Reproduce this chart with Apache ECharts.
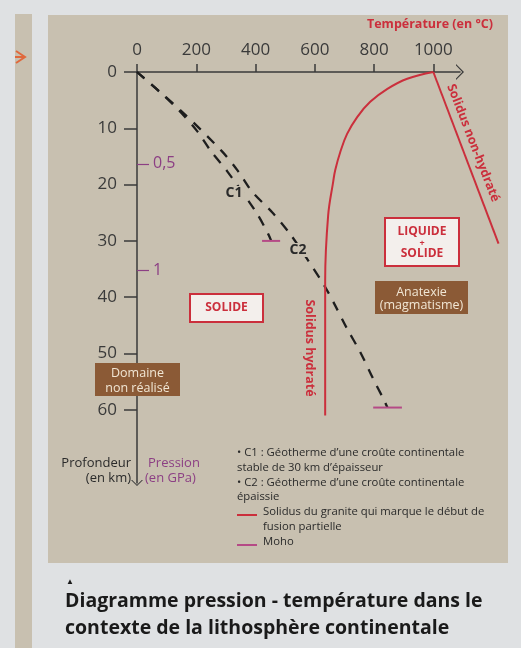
<!DOCTYPE html>
<html>
<head>
<meta charset="UTF-8">
<title>Diagramme pression - température</title>
<script src="https://cdn.jsdelivr.net/npm/echarts@6/dist/echarts.min.js"></script>
<style>
  * { margin: 0; padding: 0; }
  #main { width: 521px; height: 648px; }
</style>
</head>
<body>
<div id="main"></div>
<script>
// ticks
var tempTicks = [0, 200, 400, 600, 800, 1000];
var depthTicks = [0, 10, 20, 30, 40, 50, 60];
var pressureLabels = ['0,5', '1'];
var pressureDepths = [16.3, 35.3];

// geotherm C1 (croûte stable 30 km)
var c1Temp  = [0, 78, 145, 203, 250, 304, 402, 443, 453];
var c1Depth = [0, 3.6, 7, 10.5, 14.1, 17.6, 24.9, 28.8, 30];

// geotherm C2 (croûte épaissie)
var c2Temp  = [0, 155, 287, 341, 389, 456, 517, 574, 635, 669, 709, 753, 797, 831, 845];
var c2Depth = [0, 7.2, 14.1, 17.6, 21.3, 24.9, 28.8, 33.2, 38.2, 41.5, 45.6, 49.7, 54.5, 58, 59.6];

// solidus hydraté
var solHydTemp  = [1000, 912, 845, 787, 743, 709, 686, 669, 662, 645, 635, 635];
var solHydDepth = [0, 1.2, 3.0, 5.3, 8.0, 11.0, 14.2, 17.4, 19.5, 25.5, 37, 61];

// solidus non-hydraté
var solDryTemp  = [1000, 1220];
var solDryDepth = [0, 30.5];

// Moho (C1, C2)
var mohoDepth = [30, 59.6];
var mohoTempFrom = [422, 797];
var mohoTempTo = [483, 894];

var RED = '#cb2f3c';
var MOHO = '#b54a86';
var PURPLE = '#8c3f84';
var INK = '#2a2a2a';
var AXIS = '#3a3a3a';
var BEIGE = '#c8c0b0';
var GREY = '#dfe1e3';
var BROWN = '#8b5a36';
var FONT = '"Open Sans", sans-serif';

// same scale on both grids: 0.2963 px per °C, 5.63 px per km
var X_MAX = 1090, X_MAX_WIDE = 1250, Y_MAX = 73;

function pairs(xs, ys) {
  return xs.map(function (x, i) { return [x, ys[i]]; });
}

var chevron = 'path://M0,10 L10,0 L20,10 L18,10 L10,2.2 L2,10 Z';

var series = [
  {
    type: 'line', name: 'C1', data: pairs(c1Temp, c1Depth), symbol: 'none', smooth: 0.3,
    lineStyle: { color: '#1e1e1e', width: 2.3, type: [10, 9] }, z: 3
  },
  {
    type: 'line', name: 'C2', data: pairs(c2Temp, c2Depth), symbol: 'none', smooth: 0.3,
    lineStyle: { color: '#1e1e1e', width: 2.3, type: [10, 9] }, z: 3
  },
  {
    type: 'line', name: 'Solidus hydraté', data: pairs(solHydTemp, solHydDepth), symbol: 'none', smooth: 0.4,
    lineStyle: { color: RED, width: 2 }, z: 4
  },
  {
    type: 'line', name: 'Solidus non-hydraté', data: pairs(solDryTemp, solDryDepth), symbol: 'none',
    xAxisIndex: 1, yAxisIndex: 2, lineStyle: { color: RED, width: 2 }, z: 4
  }
];
mohoDepth.forEach(function (d, i) {
  series.push({
    type: 'line', name: 'Moho', data: [[mohoTempFrom[i], d], [mohoTempTo[i], d]], symbol: 'none',
    lineStyle: { color: MOHO, width: 2 }, z: 5
  });
});

function label(x, y, text, opt) {
  opt = opt || {};
  return {
    type: 'text', x: x, y: y, z: opt.z || 50, rotation: opt.rotation || 0,
    style: {
      text: text, x: 0, y: 0,
      fill: opt.color || INK,
      font: (opt.weight || 'normal') + ' ' + (opt.size || 12) + 'px ' + FONT,
      align: opt.align || 'left', verticalAlign: 'middle',
      backgroundColor: opt.bg, padding: opt.bg ? [0, 2] : 0
    }
  };
}
function rect(x, y, w, h, fill, stroke, z) {
  return {
    type: 'rect', shape: { x: x, y: y, width: w, height: h }, z: z,
    style: { fill: fill, stroke: stroke || null, lineWidth: stroke ? 2 : 0 }
  };
}
function seg(x1, y1, x2, y2, color) {
  return { type: 'line', z: 50, shape: { x1: x1, y1: y1, x2: x2, y2: y2 }, style: { stroke: color, lineWidth: 2 } };
}

var graphics = [
  // page background pieces
  rect(15, 14, 17, 634, BEIGE, null, -10),
  rect(48, 15, 460, 548, BEIGE, null, -10),
  { type: 'polyline', z: -5, shape: { points: [[16, 51], [25, 57], [16, 63]] }, style: { stroke: '#e0683c', lineWidth: 2, fill: null } },
  { type: 'line', z: -5, shape: { x1: 15, y1: 57, x2: 24, y2: 57 }, style: { stroke: '#e0683c', lineWidth: 2 } },

  label(493, 24, 'Température (en °C)', { align: 'right', color: RED, weight: 'bold', size: 12.5 }),

  // region boxes
  rect(190, 294, 73, 28, '#f3efec', RED, 40),
  label(226.5, 308, 'SOLIDE', { align: 'center', color: RED, weight: 'bold', size: 12 }),
  rect(385, 218, 74, 48, '#f3efec', RED, 40),
  label(422, 232, 'LIQUIDE', { align: 'center', color: RED, weight: 'bold', size: 12 }),
  label(422, 243, '+', { align: 'center', color: RED, weight: 'bold', size: 9 }),
  label(422, 254, 'SOLIDE', { align: 'center', color: RED, weight: 'bold', size: 12 }),
  rect(375, 281, 93, 33, BROWN, null, 40),
  label(421.5, 292, 'Anatexie', { align: 'center', color: '#f1e6d4', size: 12.5 }),
  label(421.5, 305, '(magmatisme)', { align: 'center', color: '#f1e6d4', size: 12.5 }),
  rect(95, 363, 85, 33, BROWN, null, 40),
  label(137.5, 373, 'Domaine', { align: 'center', color: '#f1e6d4', size: 12.5 }),
  label(137.5, 388, 'non réalisé', { align: 'center', color: '#f1e6d4', size: 12.5 }),

  // curve labels
  label(234, 193, 'C1', { align: 'center', weight: 'bold', size: 14, bg: BEIGE }),
  label(298, 250, 'C2', { align: 'center', weight: 'bold', size: 14, bg: BEIGE }),
  label(310, 348, 'Solidus hydraté', { align: 'center', color: RED, weight: 'bold', size: 12.5, rotation: -Math.PI / 2 }),
  label(473, 143, 'Solidus non-hydraté', { align: 'center', color: RED, weight: 'bold', size: 12.5, rotation: -1.2 }),

  // axis names
  label(131, 463, 'Profondeur', { align: 'right', size: 13 }),
  label(131, 478, '(en km)', { align: 'right', size: 13 }),
  label(148, 463, 'Pression', { color: PURPLE, size: 13 }),
  label(145, 478, '(en GPa)', { color: PURPLE, size: 13 }),

  // key
  label(237, 453, '• C1 : Géotherme d’une croûte continentale', { size: 11.3 }),
  label(237, 468, 'stable de 30 km d’épaisseur', { size: 11.3 }),
  label(237, 483, '• C2 : Géotherme d’une croûte continentale', { size: 11.3 }),
  label(237, 497, 'épaissie', { size: 11.3 }),
  seg(237, 515, 257, 515, RED),
  label(263, 512, 'Solidus du granite qui marque le début de', { size: 11.3 }),
  label(263, 527, 'fusion partielle', { size: 11.3 }),
  seg(237, 545, 257, 545, MOHO),
  label(263, 542, 'Moho', { size: 11.3 }),

  // caption
  label(70, 582, '▲', { align: 'center', size: 8, color: '#1a1a1a' }),
  label(65, 601, 'Diagramme pression - température dans le', { weight: 'bold', size: 19.5, color: '#1a1a1a' }),
  label(65, 628, 'contexte de la lithosphère continentale', { weight: 'bold', size: 19.5, color: '#1a1a1a' })
];

var plain = function (v) { return String(v); };

var chart = echarts.init(document.getElementById('main'));
chart.setOption({
  backgroundColor: GREY,
  animation: false,
  grid: [
    { left: 137, top: 72, width: 323, height: 411, outerBoundsMode: 'none' },
    { left: 137, top: 72, width: 323 * X_MAX_WIDE / X_MAX, height: 411, outerBoundsMode: 'none' }
  ],
  xAxis: [
    {
      type: 'value', gridIndex: 0, position: 'top', min: 0, max: X_MAX,
      axisLine: {
        show: true, onZero: false, symbol: ['none', chevron], symbolSize: [17, 8],
        lineStyle: { color: AXIS, width: 1.5 }
      },
      axisTick: { show: true, length: 8, customValues: tempTicks, lineStyle: { color: AXIS, width: 1.5 } },
      axisLabel: { customValues: tempTicks, formatter: plain, fontSize: 17, color: AXIS, margin: 13, fontFamily: FONT },
      splitLine: { show: false }
    },
    {
      type: 'value', gridIndex: 1, min: 0, max: X_MAX_WIDE, show: false
    }
  ],
  yAxis: [
    {
      type: 'value', gridIndex: 0, inverse: true, min: 0, max: Y_MAX, position: 'left',
      axisLine: {
        show: true, onZero: false, symbol: [chevron, 'none'], symbolSize: [12, 6],
        lineStyle: { color: AXIS, width: 1.5 }
      },
      axisTick: { show: true, length: 13, customValues: depthTicks, lineStyle: { color: AXIS, width: 1.5 } },
      axisLabel: { customValues: depthTicks, formatter: plain, fontSize: 17, color: AXIS, margin: 20, fontFamily: FONT },
      splitLine: { show: false }
    },
    {
      type: 'value', gridIndex: 0, inverse: true, min: 0, max: Y_MAX, position: 'left', offset: 0,
      axisLine: { show: false },
      axisTick: { show: true, inside: true, length: 12, customValues: pressureDepths, lineStyle: { color: PURPLE, width: 1.2 } },
      axisLabel: {
        inside: true, customValues: pressureDepths, fontSize: 16, color: PURPLE, margin: 16, fontFamily: FONT,
        formatter: function (v) {
          for (var i = 0; i < pressureDepths.length; i++) {
            if (Math.abs(pressureDepths[i] - v) < 1e-6) return pressureLabels[i];
          }
          return '';
        }
      },
      splitLine: { show: false }
    },
    {
      type: 'value', gridIndex: 1, inverse: true, min: 0, max: Y_MAX, show: false
    }
  ],
  graphic: graphics,
  series: series
});
</script>
</body>
</html>
